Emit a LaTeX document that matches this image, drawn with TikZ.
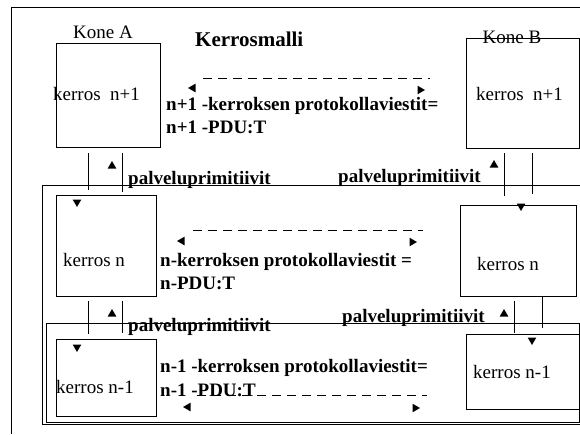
\documentclass[tikz,border=0pt]{standalone}
\usepackage{fontspec}
\setmainfont{Liberation Serif}
\usetikzlibrary{shapes.geometric}

\tikzset{
  box/.style={draw, line width=1pt, inner sep=0pt},
  frame/.style={line width=1pt},
  lbl/.style={anchor=base west, inner sep=0pt, font=\fontsize{19}{22}\selectfont},
  blbl/.style={lbl, font=\fontsize{19}{22}\selectfont\bfseries},
  tlbl/.style={lbl, font=\fontsize{21}{24}\selectfont\bfseries},
  tri/.style={regular polygon, regular polygon sides=3, fill, inner sep=0pt, minimum size=10pt},
  msg/.style={line width=1pt, dash pattern=on 9pt off 6pt},
}

\begin{document}
\begin{tikzpicture}[x=1pt, y=-1pt]
  \useasboundingbox (0,0) rectangle (580,434);
  % frames
  \draw[frame] (11,434) -- (11,7) -- (581,7);
  \draw[frame] (581,185) -- (42,185) -- (42,424) -- (581,424);
  \draw[frame] (46,323) rectangle (579,422);
  % layer boxes
  \node[box, minimum width=104pt, minimum height=104pt] (an1) at (108,95) {};
  \node[box, minimum width=113pt, minimum height=110pt] (bn1) at (522.5,93) {};
  \node[box, minimum width=100pt, minimum height=101pt] (an) at (106,245.5) {};
  \node[box, minimum width=116pt, minimum height=91pt] (bn) at (518,250.5) {};
  \node[box, minimum width=100pt, minimum height=77pt] (anm1) at (106,377.5) {};
  \node[box, minimum width=113pt, minimum height=75pt] (bnm1) at (522.5,371.5) {};
  % service lines
  \foreach \x/\ya/\yb in {88/153/190, 122/153/192, 504/153/196, 532/153/194,
                          88/301/334, 122/301/333, 514/301/333, 542/297/328}
    \draw[frame] (\x,\ya) -- (\x,\yb);
  % peer messages
  \draw[msg] (203,78) -- (430,78);
  \draw[msg] (193,230) -- (423,230);
  \draw[msg] (197,395) -- (427,395);
  % triangles
  \foreach \n/\x/\y/\r in {u1/112/166/0, u2/494/165/0, d1/77/202/180, d2/521/206/180,
                           u3/112/314/0, u4/504/314/0, d3/77/347/180, d4/532/340/180,
                           l1/193/88/90, r1/420/90/-90, l2/182/241/90, r2/412/242/-90,
                           l3/188/407/90, r3/415/408/-90}
    \node[tri, rotate=\r] (t\n) at (\x,\y) {};
  % texts
  \node[lbl, anchor=base] (konea) at (103,38) {Kone A};
  \node[lbl, anchor=base] (koneb) at (512,43) {Kone B};
  \node[tlbl] (title) at (195,46) {Kerrosmalli};
  \node[lbl] (ta1) at (53,100) {kerros\ \ n+1};
  \node[lbl] (tb1) at (476,100) {kerros\ \ n+1};
  \node[blbl] (m1a) at (166,110) {n+1 -kerroksen protokollaviestit=};
  \node[blbl] (m1b) at (166,133) {n+1 -PDU:T};
  \node[blbl] (p1) at (128,184) {palveluprimitiivit};
  \node[blbl] (p2) at (338,182) {palveluprimitiivit};
  \node[lbl] (ta2) at (63,266) {kerros n};
  \node[lbl] (tb2) at (477,270) {kerros n};
  \node[blbl] (m2a) at (160,266) {n-kerroksen protokollaviestit =};
  \node[blbl] (m2b) at (160,289) {n-PDU:T};
  \node[blbl] (p3) at (128,331) {palveluprimitiivit};
  \node[blbl] (p4) at (342,322) {palveluprimitiivit};
  \node[lbl] (ta3) at (56,393) {kerros n-1};
  \node[lbl] (tb3) at (473,378) {kerros n-1};
  \node[blbl] (m3a) at (160,372) {n-1 -kerroksen protokollaviestit=};
  \node[blbl] (m3b) at (160,396) {n-1 -PDU:T};
\end{tikzpicture}
\end{document}
